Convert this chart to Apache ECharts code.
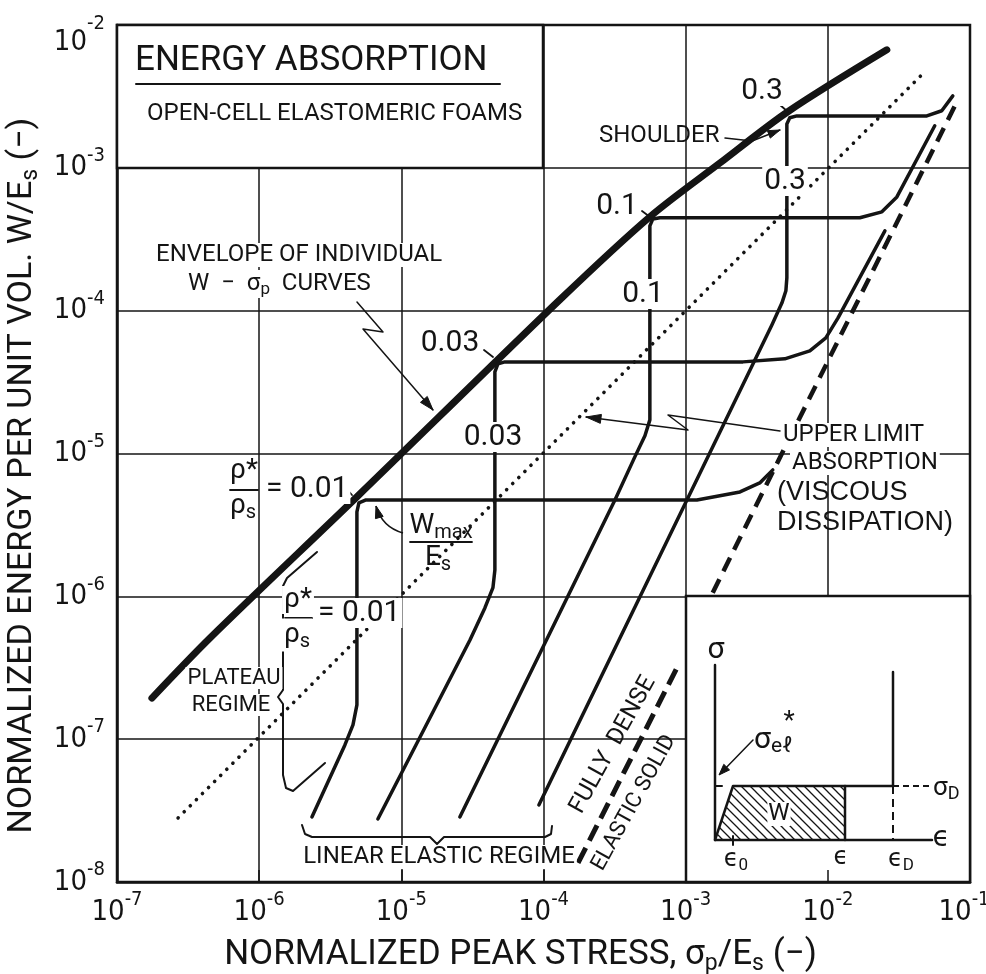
<!DOCTYPE html>
<html><head><meta charset="utf-8">
<script src="https://cdn.jsdelivr.net/npm/echarts@6/dist/echarts.min.js"></script>
<style>html,body{margin:0;padding:0;background:#fff}#c{width:986px;height:974px}</style>
</head><body><div id="c"></div>
<script>
// ---------------- data ----------------
const decadesX = [1e-7, 1e-6, 1e-5, 1e-4, 1e-3, 1e-2, 1e-1];
const decadesY = [1e-8, 1e-7, 1e-6, 1e-5, 1e-4, 1e-3, 1e-2];
// envelope of individual W - sigma_p curves
const envelope = [[1.76e-7,1.94e-7],[4.51e-7,5.11e-7],[4.87e-6,4.97e-6],[1.30e-4,1.19e-4],[5.60e-4,4.54e-4],[1.74e-3,1.08e-3],[5.23e-3,2.47e-3],[2.60e-2,6.70e-3]];
// individual curves, rho*/rho_s = 0.01, 0.03, 0.1, 0.3
const curve001 = [[2.35e-6,2.85e-8],[4.01e-6,9.11e-8],[4.57e-6,1.26e-7],[4.87e-6,1.74e-7],[4.87e-6,3.90e-6],[5.03e-6,4.51e-6],[5.64e-6,4.73e-6],[1.20e-3,4.73e-6],[2.41e-3,5.38e-6],[3.32e-3,6.22e-6],[4.10e-3,7.68e-6]];
const curve003 = [[6.84e-6,2.76e-8],[3.04e-5,4.95e-7],[3.87e-5,8.29e-7],[4.41e-5,1.15e-6],[4.55e-5,1.53e-6],[4.55e-5,3.73e-5],[4.78e-5,4.24e-5],[5.35e-5,4.38e-5],[2.53e-3,4.38e-5],[4.98e-3,4.60e-5],[7.47e-3,5.23e-5],[9.68e-3,6.45e-5],[1.18e-2,8.90e-5],[2.52e-2,3.62e-4]];
const curve01 = [[2.58e-5,2.85e-8],[3.18e-4,4.73e-6],[4.39e-4,9.47e-6],[5.17e-4,1.33e-5],[5.60e-4,1.72e-5],[5.60e-4,3.92e-4],[5.88e-4,4.39e-4],[6.59e-4,4.47e-4],[1.68e-2,4.47e-4],[2.40e-2,4.92e-4],[3.06e-2,6.26e-4],[5.65e-2,1.97e-3]];
const curve03 = [[9.28e-5,3.46e-8],[4.04e-3,7.95e-5],[4.75e-3,1.13e-4],[5.07e-3,1.38e-4],[5.15e-3,1.70e-4],[5.15e-3,2.03e-3],[5.40e-3,2.24e-3],[6.05e-3,2.31e-3],[4.97e-2,2.31e-3],[6.33e-2,2.51e-3],[7.57e-2,3.19e-3]];
// dotted line through the shoulders
const shoulderLine = [[2.69e-7,2.81e-8],[4.58e-2,4.48e-3]];
// upper limit absorption (viscous dissipation)
const upperLimit = [[1.55e-3,1.06e-6],[8.21e-2,2.99e-3]];
// fully dense elastic solid
const fullyDense = [[1.75e-4,1.36e-8],[8.67e-4,3.15e-7]];
// inset sketch (schematic stress-strain curve, arbitrary units)
const insetAxes = [[0,175],[0,0],[217,0]];
const insetW = [[0,0],[18,54],[130,54],[130,0]];
const insetStress = [[130,54],[178,54],[178,168]];
const insetDashH = [[178,54],[215,54]];
const insetDashV = [[178,54],[178,0]];
const insetElMark = [[0,54],[7,54]];
const insetE0Tick = [[18,-5],[18,4]];

// ---------------- styling ----------------
const FONT = "Roboto, 'DejaVu Sans', sans-serif";
const NARROW = "'Liberation Sans Narrow', 'DejaVu Sans Condensed', Roboto, sans-serif";
const INK = '#141414';
const chart = echarts.init(document.getElementById('c'), null, {renderer:'canvas'});

// hatch pattern for W area
const hc = document.createElement('canvas'); hc.width = 9; hc.height = 9;
const hx = hc.getContext('2d'); hx.strokeStyle = INK; hx.lineWidth = 1.3;
hx.beginPath(); hx.moveTo(-1,-1); hx.lineTo(10,10); hx.moveTo(-1,8); hx.lineTo(1,10); hx.moveTo(8,-1); hx.lineTo(10,1); hx.stroke();

function expLabel(v){ const e = Math.round(Math.log10(v)); return '{b|10}{' + (e===-1?'t':'s') + '|' + (e<0?'-':'') + Math.abs(e) + '}'; }
function expLabelY(v){ const e = Math.round(Math.log10(v)); return e===-2 ? '{b2|10}{s2|-2}' : '{b|10}{s|' + (e<0?'-':'') + Math.abs(e) + '}'; }
const tickRich = { b:{fontSize:29, fontFamily:NARROW, color:INK},
                   s:{fontSize:20, fontFamily:NARROW, color:INK, padding:[0,0,24,0]},
                   t:{fontSize:20, fontFamily:NARROW, color:INK, padding:[0,12,24,0]},
                   b2:{fontSize:29, fontFamily:NARROW, color:INK, padding:[34,0,0,0]},
                   s2:{fontSize:20, fontFamily:NARROW, color:INK, padding:[0,0,2,0]} };

function line(data, w, extra){ return Object.assign({type:'line', data:data, symbol:'none', silent:true, animation:false, lineStyle:{color:INK, width:w, cap:'round', join:'round'}}, extra||{}); }
function insetLine(data, w, extra){ const s = line(data, w, extra); s.xAxisIndex = 2; s.yAxisIndex = 1; s.z = 4; return s; }

// graphic helpers (annotations)
const G = [];
function T(text, x, y, size, o){ o=o||{}; G.push({type:'text', z:o.z||10, x:x, y:y, rotation:o.rot||0,
  style:{text:text, x:0, y:0, font:(o.weight||'normal')+' '+size+'px '+(o.family||FONT), fill:INK,
  align:o.align||'left', textAlign:o.align||'left', verticalAlign:'middle', textVerticalAlign:'middle',
  backgroundColor:o.bg||null, padding:o.pad||(o.bg?[0,2,0,2]:0),
  rich:{ s:{fontSize:Math.round(size*0.7), fontFamily:FONT, padding:[Math.round(size*0.45),0,0,0]},
         u:{fontSize:Math.round(size*0.8), fontFamily:FONT, padding:[0,0,Math.round(size*0.5),0]} }}}); }
function PL(pts, w, o){ o=o||{}; G.push({type:'polyline', z:o.z||9, shape:{points:pts}, style:{stroke:INK, lineWidth:w, fill:null, lineDash:o.dash||null, lineCap:'round', lineJoin:'round'}}); }
function HEAD(tip, from, len, hw){ const dx=tip[0]-from[0], dy=tip[1]-from[1], L=Math.hypot(dx,dy), ux=dx/L, uy=dy/L;
  const bx=tip[0]-ux*len, by=tip[1]-uy*len;
  G.push({type:'polygon', z:9, shape:{points:[tip,[bx-uy*hw,by+ux*hw],[bx+uy*hw,by-ux*hw]]}, style:{fill:INK, stroke:INK, lineWidth:1}}); }
function CURVE(p0, cp, p1, w){ G.push({type:'bezierCurve', z:9, shape:{x1:p0[0],y1:p0[1],x2:p1[0],y2:p1[1],cpx1:cp[0],cpy1:cp[1]}, style:{stroke:INK, lineWidth:w, fill:null}}); HEAD(p1, cp, 12, 4); }

// boxes
G.push({type:'rect', z:1, shape:{x:117,y:25,width:426,height:143}, style:{fill:'#fff', stroke:INK, lineWidth:2.5}});
G.push({type:'rect', z:1, shape:{x:686,y:596,width:284,height:286}, style:{fill:'#fff', stroke:INK, lineWidth:2.5}});

// title
T('ENERGY ABSORPTION', 135, 61, 35);
PL([[136,84],[500,84]], 2);
T('OPEN-CELL ELASTOMERIC FOAMS', 147, 114, 24);

// envelope text + arrow
T('ENVELOPE OF INDIVIDUAL', 154, 255, 24, {bg:'#fff'});
T('W  −  σ{s|p}  CURVES', 186, 284, 24, {bg:'#fff'});
PL([[357,302],[383,332],[363,329],[433,410]], 1.5); HEAD([433,410],[363,329],14,4.5);

// density labels on envelope
T('0.03', 450, 343, 30, {align:'center', bg:'#fff'}); PL([[484,350],[493,357]],1.8);
T('0.1', 617, 206, 30, {align:'center', bg:'#fff'}); PL([[642,211],[650,217]],1.8);
T('0.3', 762, 91, 30, {align:'center', bg:'#fff'}); PL([[779,104],[788,112]],1.8);
// density labels on curves
T('0.03', 493, 437, 30, {align:'center', bg:'#fff'});
T('0.1', 643, 294, 30, {align:'center', bg:'#fff'});
T('0.3', 785, 181, 30, {align:'center', bg:'#fff'});

// rho*/rho_s = 0.01 (envelope)
T('ρ*', 244, 471, 28, {align:'center'}); PL([[230,490],[258,490]], 1.8);
T('ρ{s|s}', 243, 506, 28, {align:'center'});
T('= 0.01', 264, 489, 30, {bg:'#fff'}); PL([[345,487],[352,495]],1.8);
// rho*/rho_s = 0.01 (curve)
T('ρ*', 298, 600, 28, {align:'center', bg:'#fff'}); PL([[285,618],[312,618]], 1.8);
T('ρ{s|s}', 297, 635, 28, {align:'center', bg:'#fff'});
T('= 0.01', 316, 613, 30, {bg:'#fff'});

// W_max / E_s
T('W{s|max}', 441, 526, 28, {align:'center'}); PL([[410,542],[472,542]], 1.8);
T('E{s|s}', 438, 558, 28, {align:'center'});
CURVE([403,533],[382,527],[376,506],1.5);

// plateau regime brace
T('PLATEAU', 234, 678, 22, {align:'center', bg:'#fff'});
T('REGIME', 231, 705, 22, {align:'center', bg:'#fff'});
PL([[317,552],[287,578],[283,586],[283,690],[278,697],[283,704],[283,775],[286,788],[293,791],[325,763]], 2);

// linear elastic regime brace
PL([[302,825],[305,834],[312,837],[430,837],[437,844],[444,837],[545,837],[551,834],[552,826]], 2);
T('LINEAR ELASTIC REGIME', 439, 857, 24, {align:'center', bg:'#fff'});

// fully dense elastic solid
T('FULLY  DENSE', 613, 745, 24, {align:'center', rot:61*Math.PI/180});
T('ELASTIC SOLID', 634, 803, 22, {align:'center', rot:61*Math.PI/180});

// shoulder
T('SHOULDER', 599, 136, 24);
PL([[725,138],[752,141],[780,130]], 1.5); HEAD([780,130],[752,141],12,4);

// upper limit absorption
T('UPPER LIMIT', 781, 435, 24, {bg:'#fff'});
T('ABSORPTION', 790, 463, 24, {bg:'#fff'});
PL([[780,431],[668,415],[688,430],[586,417]], 1.5); HEAD([586,417],[688,430],15,4.5);
T('(VISCOUS', 777, 493, 27, {family:"'Liberation Sans', Arial, sans-serif", z:11});
T('DISSIPATION)', 777, 523, 27, {family:"'Liberation Sans', Arial, sans-serif", z:11});

// inset labels
T('σ', 716, 650, 30, {align:'center'});
T('σ{s|eℓ}', 754, 740, 30);
T('*', 789, 722, 26, {align:'center'});
PL([[753,740],[721,773]], 1.5); HEAD([719,775],[753,740],11,4);
T('σ{s|D}', 933, 788, 26);
T('ϵ', 941, 839, 28, {align:'center', family:"'DejaVu Sans', sans-serif"});
T('W', 779, 814, 24, {align:'center', bg:'#fff', pad:[0,1,0,1]});
T('ϵ{s|0}', 736, 860, 24, {align:'center', family:"'DejaVu Sans', sans-serif"});
T('ϵ', 841, 858, 24, {align:'center', family:"'DejaVu Sans', sans-serif"});
T('ϵ{s|D}', 901, 860, 24, {align:'center', family:"'DejaVu Sans', sans-serif"});

const option = {
  backgroundColor:'#fff',
  animation:false,
  grid:[
    {left:117, right:16, top:25, bottom:92, show:true, borderColor:INK, borderWidth:2.5, z:0, containLabel:false, outerBoundsMode:'none'},
    {left:686, top:596, width:284, height:286, containLabel:false, outerBoundsMode:'none'}
  ],
  xAxis:[
    {type:'log', logBase:10, min:decadesX[0], max:decadesX[decadesX.length-1], gridIndex:0, position:'bottom',
     name:'NORMALIZED PEAK STRESS, σ{s|p}/E{s|s} (−)', nameLocation:'middle', nameGap:53,
     nameTextStyle:{fontSize:35, fontFamily:FONT, color:INK, padding:[0,46,0,0], rich:{s:{fontSize:23, fontFamily:FONT, color:INK, padding:[18,0,0,0]}}},
     axisLine:{lineStyle:{color:INK, width:2.5}}, axisTick:{show:false}, minorTick:{show:false},
     axisLabel:{formatter:expLabel, rich:tickRich, margin:8, color:INK},
     splitLine:{show:true, lineStyle:{color:INK, width:1.5}}},
    {type:'log', logBase:10, min:decadesX[0], max:decadesX[decadesX.length-1], gridIndex:0, position:'bottom', z:6,
     axisLine:{show:false}, axisLabel:{show:false}, splitLine:{show:false},
     axisTick:{show:true, inside:true, length:12, lineStyle:{color:INK, width:1.5}}},
    {type:'value', gridIndex:1, min:-29, max:255, show:false}
  ],
  yAxis:[
    {type:'log', logBase:10, min:decadesY[0], max:decadesY[decadesY.length-1], gridIndex:0,
     name:'NORMALIZED ENERGY PER UNIT VOL. W/E{s|s} (−)', nameLocation:'middle', nameGap:58, nameRotate:90,
     nameTextStyle:{fontSize:34, fontFamily:FONT, color:INK, padding:[0,44,0,0], rich:{s:{fontSize:23, fontFamily:FONT, color:INK, padding:[18,0,0,0]}}},
     axisLine:{lineStyle:{color:INK, width:2.5}}, axisTick:{show:false},
     axisLabel:{formatter:expLabelY, rich:tickRich, margin:12, color:INK},
     splitLine:{show:true, lineStyle:{color:INK, width:1.5}}},
    {type:'value', gridIndex:1, min:-42, max:244, show:false}
  ],
  series:[
    line(envelope, 7, {smooth:0.3, z:3}),
    line(curve001, 3.5, {z:3}),
    line(curve003, 3.5, {z:3}),
    line(curve01, 3.5, {z:3}),
    line(curve03, 3.5, {z:3}),
    line(shoulderLine, 3.6, {lineStyle:{color:INK, width:3.6, type:[0.1,8.5], cap:'round'}}),
    line(upperLimit, 4.5, {lineStyle:{color:INK, width:4.5, type:[15,9], cap:'butt'}}),
    line(fullyDense, 5, {lineStyle:{color:INK, width:5, type:[17,8], cap:'butt'}}),
    insetLine(insetAxes, 2.5),
    insetLine(insetW, 2.5, {areaStyle:{color:{image:hc, repeat:'repeat'}, opacity:1}}),
    insetLine(insetStress, 2.5),
    insetLine(insetDashH, 1.8, {lineStyle:{color:INK, width:1.8, type:[6,4]}}),
    insetLine(insetDashV, 2, {lineStyle:{color:INK, width:2, type:[8,5]}}),
    insetLine(insetElMark, 2),
    insetLine(insetE0Tick, 2)
  ],
  graphic:{elements:G}
};
chart.setOption(option);
</script></body></html>
